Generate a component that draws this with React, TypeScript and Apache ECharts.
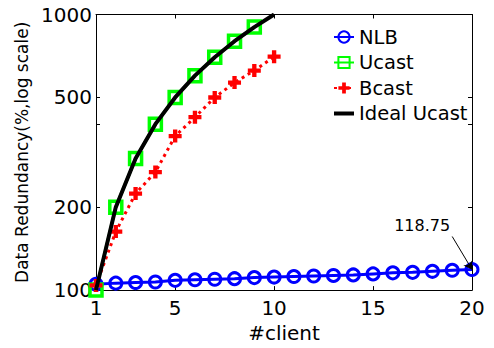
import React, { useEffect, useRef } from 'react';
import * as echarts from 'echarts';

const clients = [1, 2, 3, 4, 5, 6, 7, 8, 9, 10, 11, 12, 13, 14, 15, 16, 17, 18, 19, 20];
const nlb = [105, 106, 106.5, 107, 108.5, 109, 109.5, 110, 111, 111.5, 112, 112.5, 113, 113.5, 114.5, 115.5, 116, 117, 118, 118.75];
const ucast = [100, 200, 300, 400, 500, 600, 700, 800, 900];
const bcast = [104, 163, 224, 268, 362, 424, 500, 566, 626, 703];
const idealUcast = [100, 200, 300, 400, 500, 600, 700, 800, 900, 1000];
const xTicks = [1, 5, 10, 15, 20];
const yLabels = [100, 200, 500, 1000];
const yTicks = [200, 400, 500, 1000];
const annotationText = '118.75';

const FONT = 'DejaVu Sans';
const pairs = (ys: number[]) => ys.map((y, i) => [clients[i], y]);
const PLUS = 'path://M4,0H8V4H12V8H8V12H4V8H0V4H4Z';
const BAR = 'path://M0,0H20V4H0Z';

export default function App() {
  const ref = useRef<HTMLDivElement>(null);
  useEffect(() => {
    if (!ref.current) return;
    const chart = echarts.init(ref.current, null, { renderer: 'svg' });
    const axisLine = { show: true, onZero: false, lineStyle: { color: '#000', width: 1 } };
    const tickStyle = { color: '#000', width: 1 };
    chart.setOption({
      animation: false,
      backgroundColor: '#fff',
      grid: { left: 96, right: 22, top: 14.5, bottom: 56 },
      xAxis: [
        {
          type: 'value', min: 1, max: 20, position: 'bottom',
          axisLine,
          axisTick: { show: true, inside: true, length: 4, customValues: xTicks, lineStyle: tickStyle },
          axisLabel: { customValues: xTicks, color: '#000', fontFamily: FONT, fontSize: 20, margin: 8, formatter: (v: number) => String(v) },
          splitLine: { show: false },
          name: '#client', nameLocation: 'middle', nameGap: 30,
          nameTextStyle: { color: '#000', fontFamily: FONT, fontSize: 20 },
        },
        {
          type: 'value', min: 1, max: 20, position: 'top',
          axisLine,
          axisTick: { show: true, inside: true, length: 4, customValues: xTicks, lineStyle: tickStyle },
          axisLabel: { show: false },
          splitLine: { show: false },
        },
      ],
      yAxis: [
        {
          type: 'log', logBase: 10, min: 100, max: 1000, position: 'left',
          axisLine,
          axisTick: { show: true, inside: true, length: 4, customValues: yTicks, lineStyle: tickStyle },
          axisLabel: { customValues: yLabels, color: '#000', fontFamily: FONT, fontSize: 20, margin: 4, formatter: (v: number) => String(Math.round(v)) },
          minorTick: { show: false },
          splitLine: { show: false },
          name: 'Data Redundancy(%,log scale)', nameLocation: 'middle', nameGap: 56, nameRotate: 90,
          nameTextStyle: { color: '#000', fontFamily: FONT, fontSize: 17 },
        },
        {
          type: 'log', logBase: 10, min: 100, max: 1000, position: 'right',
          axisLine,
          axisTick: { show: true, inside: true, length: 4, customValues: yTicks, lineStyle: tickStyle },
          axisLabel: { show: false },
          splitLine: { show: false },
        },
      ],
      legend: {
        orient: 'vertical', left: 328, top: 22, itemGap: 5.5, itemWidth: 20, itemHeight: 14,
        textStyle: { color: '#000', fontFamily: FONT, fontSize: 19.5 },
        data: ['NLB', 'Ucast', 'Bcast', { name: 'Ideal Ucast', icon: BAR, itemStyle: { color: '#000' } }],
      },
      series: [
        {
          name: 'NLB', type: 'line', xAxisIndex: 0, yAxisIndex: 0,
          data: pairs(nlb),
          symbol: 'circle', symbolSize: 12,
          itemStyle: { color: 'rgba(0,0,0,0)', borderColor: '#0000ff', borderWidth: 3 },
          lineStyle: { color: '#0000ff', width: 3 },
          z: 2,
          markLine: {
            silent: true, symbol: ['none', 'arrow'], symbolSize: 8,
            label: { show: false },
            lineStyle: { color: '#000', width: 1, type: 'solid' },
            data: [[{ coord: [19.0, 156.5] }, { coord: [clients[19], nlb[19]] }]],
          },
          markPoint: {
            symbol: 'circle', symbolSize: 1,
            itemStyle: { color: 'rgba(0,0,0,0)' },
            label: { show: true, position: 'inside', formatter: annotationText, color: '#000', fontFamily: FONT, fontSize: 16 },
            data: [{ coord: [17.48, 171.5] }],
          },
        },
        {
          name: 'Ucast', type: 'line', xAxisIndex: 0, yAxisIndex: 0,
          data: pairs(ucast),
          symbol: 'rect', symbolSize: 12,
          itemStyle: { color: 'rgba(0,0,0,0)', borderColor: '#00ff00', borderWidth: 3.5 },
          lineStyle: { color: '#00ff00', width: 3 },
          z: 3,
        },
        {
          name: 'Bcast', type: 'line', xAxisIndex: 0, yAxisIndex: 0,
          data: pairs(bcast),
          symbol: PLUS, symbolSize: 13,
          itemStyle: { color: '#ff0000' },
          lineStyle: { color: '#ff0000', width: 3, type: [3, 4] },
          z: 4,
        },
        {
          name: 'Ideal Ucast', type: 'line', xAxisIndex: 0, yAxisIndex: 0,
          data: pairs(idealUcast),
          showSymbol: false, symbol: 'none',
          itemStyle: { color: '#000' },
          lineStyle: { color: '#000', width: 4 },
          z: 5,
        },
      ],
    });
    return () => chart.dispose();
  }, []);
  return <div ref={ref} style={{ position: 'fixed', left: 0, top: 0, width: 494, height: 348 }} />;
}
